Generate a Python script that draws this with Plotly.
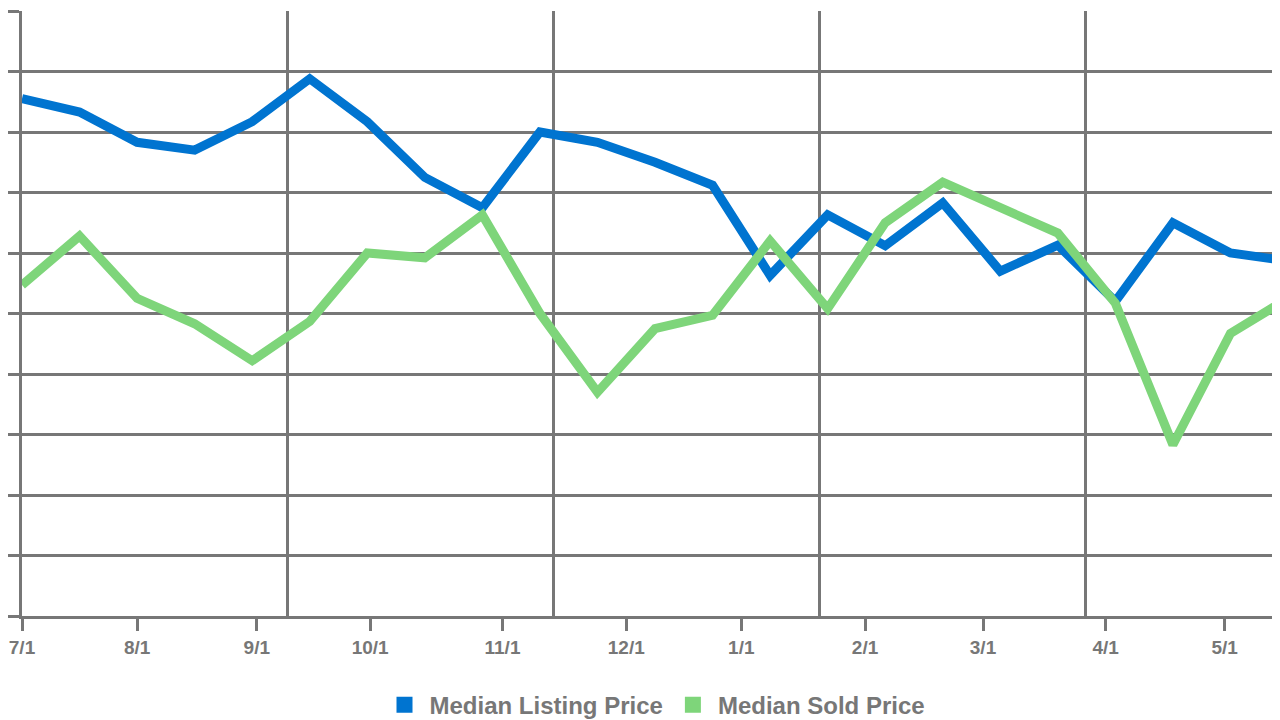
import plotly.graph_objects as go

# semi-monthly points, 7/1 through mid-May
month_labels = ["7/1", "8/1", "9/1", "10/1", "11/1", "12/1", "1/1", "2/1", "3/1", "4/1", "5/1"]
month_pos = [0, 2.0, 4.08, 6.05, 8.35, 10.5, 12.5, 14.65, 16.7, 18.83, 20.9]
listing_price = [8.55, 8.33, 7.83, 7.7, 8.17, 8.88, 8.17, 7.25, 6.75, 8.0, 7.83, 7.5,
                 7.12, 5.63, 6.63, 6.12, 6.83, 5.7, 6.13, 5.2, 6.5, 6.0, 5.87]
sold_price = [5.47, 6.28, 5.25, 4.83, 4.22, 4.87, 6.0, 5.92, 6.63, 5.0, 3.7, 4.75,
              4.97, 6.2, 5.08, 6.5, 7.17, 6.75, 6.33, 5.17, 2.83, 4.67, 5.25]

x = list(range(len(listing_price)))
grey = "#777777"
blue = "#0074D0"
green = "#7ED57A"

fig = go.Figure()
fig.add_trace(go.Scatter(x=x, y=listing_price, mode="lines", showlegend=False,
                         line=dict(color=blue, width=9)))
fig.add_trace(go.Scatter(x=x, y=sold_price, mode="lines", showlegend=False,
                         line=dict(color=green, width=9)))
# legend swatches as squares
for name, col in [("Median Listing Price", blue), ("Median Sold Price", green)]:
    fig.add_trace(go.Scatter(x=[None], y=[None], mode="markers", name=name,
                             marker=dict(symbol="square", size=30, color=col)))
# invisible trace to carry the vertical grid axis
fig.add_trace(go.Scatter(x=[0], y=[0], xaxis="x2", mode="markers",
                         marker=dict(opacity=0), showlegend=False, hoverinfo="skip"))

fig.update_layout(
    width=1280, height=720,
    paper_bgcolor="white", plot_bgcolor="white",
    margin=dict(l=12, r=0, t=3, b=112),
    font=dict(family="Liberation Sans Narrow, Arial Narrow, sans-serif", color=grey, size=17),
    xaxis=dict(range=[0, 22], tickvals=month_pos, ticktext=month_labels,
               showgrid=False, zeroline=False, showline=True, linecolor=grey, linewidth=3,
               ticks="outside", ticklen=12, tickwidth=3, tickcolor=grey,
               tickfont=dict(size=19, color=grey, weight="bold")),
    xaxis2=dict(overlaying="x", range=[0, 22 / 4.62], dtick=1, showgrid=True,
                gridcolor=grey, gridwidth=3, showticklabels=False, zeroline=False),
    yaxis=dict(range=[0, 10], dtick=1, showgrid=True, gridcolor=grey, gridwidth=3,
               showticklabels=False, zeroline=False, showline=True, linecolor=grey,
               linewidth=3, ticks="outside", ticklen=14, tickwidth=3, tickcolor=grey),
    legend=dict(orientation="h", x=0.5, xanchor="center", y=-0.11, yanchor="top",
                font=dict(size=24, color=grey, weight="bold"), itemwidth=40),
)

fig.write_html("out.html")
